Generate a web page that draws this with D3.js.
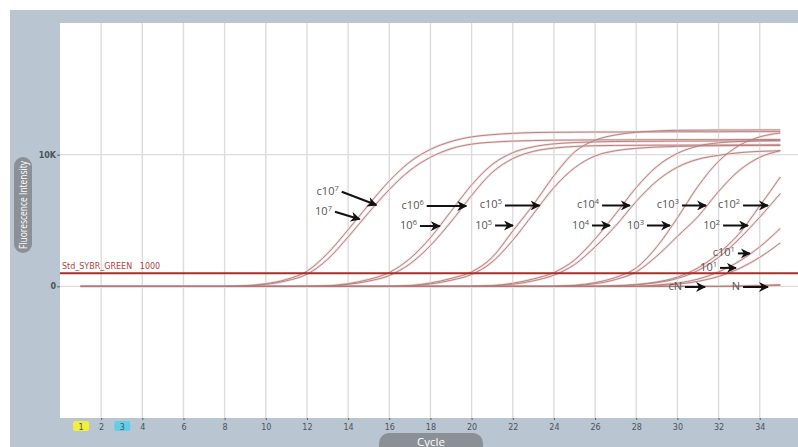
<!DOCTYPE html>
<html>
<head>
<meta charset="utf-8">
<title>Amplification plot</title>
<script src="https://d3js.org/d3.v7.min.js"></script>
<style>
  body { margin: 0; background: #fff; font-family: "Open Sans", "DejaVu Sans", sans-serif; }
  svg { display: block; }
  .grid line { stroke: #dcdcdc; stroke-width: 1.4; }
  .axis text { font-family: "DejaVu Sans", sans-serif; font-size: 8px; fill: #4b545c; }
  .axis line { stroke: #5c646c; }
  .axis path { display: none; }
  .curve-halo { fill: none; stroke: #f0dcdc; stroke-width: 2.4; }
  .curve { fill: none; stroke: #b37878; stroke-width: 0.9; }
  .note { font-family: "Open Sans", sans-serif; font-size: 11px; fill: #555555; }
  .arrow { stroke: #111; stroke-width: 2; }
  .pill-text { fill: #fff; font-family: "Open Sans", sans-serif; }
</style>
</head>
<body>
<svg id="chart" width="798" height="447"></svg>
<script>
// axis ticks
const xTicks = [1, 2, 3, 4, 6, 8, 10, 12, 14, 16, 18, 20, 22, 24, 26, 28, 30, 32, 34];
const xGrid = [2, 4, 6, 8, 10, 12, 14, 16, 18, 20, 22, 24, 26, 28, 30, 32, 34];
const xMarked = [1, 3];
const xMarkColors = ["#f2ee3c", "#62cdea"];
const yTicks = [0, 10000];
const yTickLabels = ["0", "10K"];
const yGrid = [0, 10000];
const thresholdValue = 1000;
const thresholdLabel = "Std_SYBR_GREEN   1000";

// fluorescence per cycle, each series starts at its own cycle and runs to 35
const g7a = [0, 50, 200, 520, 1150, 2500, 4300, 6200, 8000, 9450, 10400, 11000, 11350, 11520, 11620, 11680, 11700, 11710, 11720, 11720, 11730, 11730, 11740, 11740, 11740, 11750, 11750, 11750];
const g7b = [0, 30, 150, 420, 920, 2050, 3750, 5600, 7350, 8800, 9800, 10450, 10800, 10950, 11030, 11070, 11100, 11110, 11120, 11120, 11130, 11130, 11140, 11140, 11140, 11150, 11150, 11150];
const g6a = [0, 40, 200, 520, 1050, 2100, 3700, 5700, 7700, 9250, 10150, 10600, 10820, 10920, 10970, 11000, 11010, 11020, 11030, 11030, 11040, 11040, 11050, 11050];
const g6b = [0, 30, 150, 400, 820, 1700, 3100, 4900, 6900, 8650, 9700, 10250, 10500, 10620, 10680, 10700, 10710, 10720, 10720, 10730, 10730, 10740, 10740, 10750];
const g5a = [0, 60, 250, 600, 1100, 2200, 4200, 6200, 8400, 10200, 11100, 11500, 11700, 11800, 11850, 11860, 11870, 11870, 11880, 11880];
const g5b = [0, 40, 180, 460, 900, 1850, 3500, 5500, 7500, 9000, 9900, 10300, 10480, 10580, 10630, 10660, 10680, 10690, 10700, 10700];
const g4a = [0, 60, 230, 560, 1050, 2000, 3600, 5500, 7500, 9100, 10100, 10650, 10900, 11000, 11050, 11100];
const g4b = [0, 40, 160, 420, 850, 1650, 3000, 4600, 6450, 8000, 9050, 9650, 9950, 10150, 10250, 10300];
const g3a = [0, 80, 280, 680, 1400, 3000, 5200, 7600, 9500, 10700, 11350, 11650];
const g3b = [0, 50, 200, 520, 1100, 2300, 3800, 5300, 7200, 8800, 9800, 10300];
const g2a = [0, 0, 0, 0, 0, 0, 0, 0, 0, 0, 0, 0, 0, 0, 0, 0, 0, 0, 0, 0, 0, 0, 0, 0, 0, 0, 50, 140, 330, 700, 1400, 2500, 4000, 6100, 8300];
const g2b = [0, 0, 0, 0, 0, 0, 0, 0, 0, 0, 0, 0, 0, 0, 0, 0, 0, 0, 0, 0, 0, 0, 0, 0, 0, 0, 40, 110, 280, 600, 1200, 2200, 3600, 5250, 7050];
const g1a = [0, 0, 0, 0, 0, 0, 0, 0, 0, 0, 0, 0, 0, 0, 0, 0, 0, 0, 0, 0, 0, 0, 0, 0, 0, 0, 0, 0, 100, 250, 550, 1100, 1900, 3000, 4400];
const g1b = [0, 0, 0, 0, 0, 0, 0, 0, 0, 0, 0, 0, 0, 0, 0, 0, 0, 0, 0, 0, 0, 0, 0, 0, 0, 0, 0, 0, 60, 170, 380, 750, 1350, 2200, 3300];
const gNa = [0, 0, 0, 0, 0, 0, 0, 0, 0, 0, 0, 0, 0, 0, 0, 0, 0, 0, 0, 0, 0, 0, 0, 0, 0, 0, 0, 0, 0, 0, 0, 0, 30, 70, 130];
const gNb = [0, 0, 0, 0, 0, 0, 0, 0, 0, 0, 0, 0, 0, 0, 0, 0, 0, 0, 0, 0, 0, 0, 0, 0, 0, 0, 0, 0, 0, 0, 0, 0, 0, 30, 70];

const seriesValues = [gNa, gNb, g1a, g1b, g2a, g2b, g3a, g3b, g4a, g4b, g5a, g5b, g6a, g6b, g7a, g7b];
const seriesStart = [1, 1, 1, 1, 1, 1, 24, 24, 20, 20, 16, 16, 12, 12, 8, 8];

// arrow notes: label (base + superscript), tail (cycle, value), tip (cycle, value)
const noteBase = ["c10", "10", "c10", "10", "c10", "10", "c10", "10", "c10", "10", "c10", "10", "c10", "10", "cN", "N"];
const noteSup = ["7", "7", "6", "6", "5", "5", "4", "4", "3", "3", "2", "2", "1", "1", "", ""];
const noteFromCycle = [13.69, 13.36, 17.82, 17.49, 21.62, 21.14, 26.34, 25.85, 30.22, 28.52, 33.19, 32.22, 32.94, 32.07, 30.37, 33.19];
const noteFromValue = [7185, 5665, 6100, 4580, 6140, 4620, 6140, 4620, 6140, 4620, 6140, 4620, 2500, 1400, -50, -50];
const noteToCycle = [15.47, 14.66, 19.84, 18.55, 23.40, 22.11, 27.79, 26.82, 31.49, 29.74, 34.50, 33.53, 33.62, 32.94, 31.44, 34.50];
const noteToValue = [6175, 5090, 6100, 4580, 6140, 4620, 6140, 4620, 6140, 4620, 6140, 4620, 2500, 1400, -50, -50];

const W = 798, H = 447;
const plot = { left: 60, top: 23, right: 798, bottom: 418 };

const svg = d3.select("#chart");

// outer grey frame
svg.append("rect")
  .attr("x", 10).attr("y", 10)
  .attr("width", W - 10).attr("height", H - 10)
  .attr("fill", "#b9c5d1");

svg.append("rect")
  .attr("x", plot.left).attr("y", plot.top)
  .attr("width", plot.right - plot.left).attr("height", plot.bottom - plot.top)
  .attr("fill", "#ffffff");

const x = d3.scaleLinear().domain([0, 36]).range([plot.left, plot.left + 36 * 20.58]);
const y = d3.scaleLinear().domain([-10000, 20000]).range([plot.bottom, plot.top]);

const defs = svg.append("defs");
defs.append("clipPath").attr("id", "clip")
  .append("rect")
  .attr("x", plot.left).attr("y", plot.top)
  .attr("width", plot.right - plot.left).attr("height", plot.bottom - plot.top);

// grid
const grid = svg.append("g").attr("class", "grid");
grid.selectAll(".gx").data(xGrid).enter().append("line")
  .attr("x1", d => x(d)).attr("x2", d => x(d))
  .attr("y1", plot.top).attr("y2", plot.bottom);
grid.selectAll(".gy").data(yGrid).enter().append("line")
  .attr("x1", plot.left).attr("x2", plot.right)
  .attr("y1", d => y(d)).attr("y2", d => y(d));

// x axis
const xAxis = svg.append("g")
  .attr("class", "axis")
  .attr("transform", `translate(0,${plot.bottom})`)
  .call(d3.axisBottom(x).tickValues(xTicks).tickSize(2).tickPadding(4).tickFormat(d3.format("d")));

xAxis.selectAll(".tick")
  .filter(d => xMarked.includes(d))
  .insert("rect", "text")
  .attr("x", -8).attr("y", 3)
  .attr("width", 16).attr("height", 10)
  .attr("rx", 2)
  .attr("fill", d => xMarkColors[xMarked.indexOf(d)]);
xAxis.selectAll(".tick").filter(d => xMarked.includes(d)).select("line").remove();

// y axis
svg.append("g")
  .attr("class", "axis")
  .attr("transform", `translate(${plot.left},0)`)
  .call(d3.axisLeft(y).tickValues(yTicks).tickSize(3).tickPadding(1).tickFormat((d, i) => yTickLabels[i]))
  .selectAll("text").attr("font-weight", "bold");

// axis title pills
svg.append("rect")
  .attr("x", 14).attr("y", 157).attr("width", 18).attr("height", 96).attr("rx", 9)
  .attr("fill", "#8b9096");
svg.append("text")
  .attr("class", "pill-text")
  .attr("transform", `translate(27,205) rotate(-90)`)
  .attr("text-anchor", "middle")
  .attr("font-size", 11)
  .attr("textLength", 88)
  .attr("lengthAdjust", "spacingAndGlyphs")
  .text("Fluorescence Intensity");

svg.append("rect")
  .attr("x", 379).attr("y", 433).attr("width", 104).attr("height", 24).attr("rx", 10)
  .attr("fill", "#8b9096");
svg.append("text")
  .attr("class", "pill-text")
  .attr("x", 431).attr("y", 445.5)
  .attr("text-anchor", "middle")
  .attr("font-size", 11.5)
  .text("Cycle");

// curves
const line = d3.line()
  .x(d => x(d[0]))
  .y(d => y(d[1]))
  .curve(d3.curveMonotoneX);

const curveData = seriesValues.map((vals, i) => vals.map((v, j) => [seriesStart[i] + j, v]));

const curves = svg.append("g").attr("clip-path", "url(#clip)");
curves.selectAll(".curve-halo").data(curveData).enter().append("path")
  .attr("class", "curve-halo")
  .attr("d", line);
curves.selectAll(".curve").data(curveData).enter().append("path")
  .attr("class", "curve")
  .attr("d", line);

// threshold
svg.append("line")
  .attr("x1", plot.left).attr("x2", plot.right)
  .attr("y1", y(thresholdValue)).attr("y2", y(thresholdValue))
  .attr("stroke", "#a3302b").attr("stroke-width", 2);
svg.append("text")
  .attr("x", plot.left + 2).attr("y", y(thresholdValue) - 4)
  .attr("font-size", 8)
  .attr("font-family", "DejaVu Sans, sans-serif")
  .attr("fill", "#b0443f")
  .style("white-space", "pre")
  .text(thresholdLabel);

// arrow notes
defs.append("marker")
  .attr("id", "head")
  .attr("markerUnits", "userSpaceOnUse")
  .attr("viewBox", "0 0 10 10")
  .attr("refX", 9).attr("refY", 5)
  .attr("markerWidth", 10).attr("markerHeight", 10)
  .attr("orient", "auto")
  .append("path")
  .attr("d", "M0,0 L10,5 L0,10 L3,5 Z")
  .attr("fill", "#111");

const notes = svg.append("g");
notes.selectAll("line").data(noteBase).enter().append("line")
  .attr("class", "arrow")
  .attr("x1", (d, i) => x(noteFromCycle[i]))
  .attr("y1", (d, i) => y(noteFromValue[i]))
  .attr("x2", (d, i) => x(noteToCycle[i]) - 2)
  .attr("y2", (d, i) => y(noteToValue[i]))
  .attr("marker-end", "url(#head)");

const noteText = notes.selectAll("text").data(noteBase).enter().append("text")
  .attr("class", "note")
  .attr("x", (d, i) => x(noteFromCycle[i]) - 3)
  .attr("y", (d, i) => y(noteFromValue[i]) + 3)
  .attr("text-anchor", "end");
noteText.append("tspan").text(d => d);
noteText.append("tspan")
  .attr("dy", -4)
  .attr("font-size", 7.5)
  .text((d, i) => noteSup[i]);
</script>
</body>
</html>
